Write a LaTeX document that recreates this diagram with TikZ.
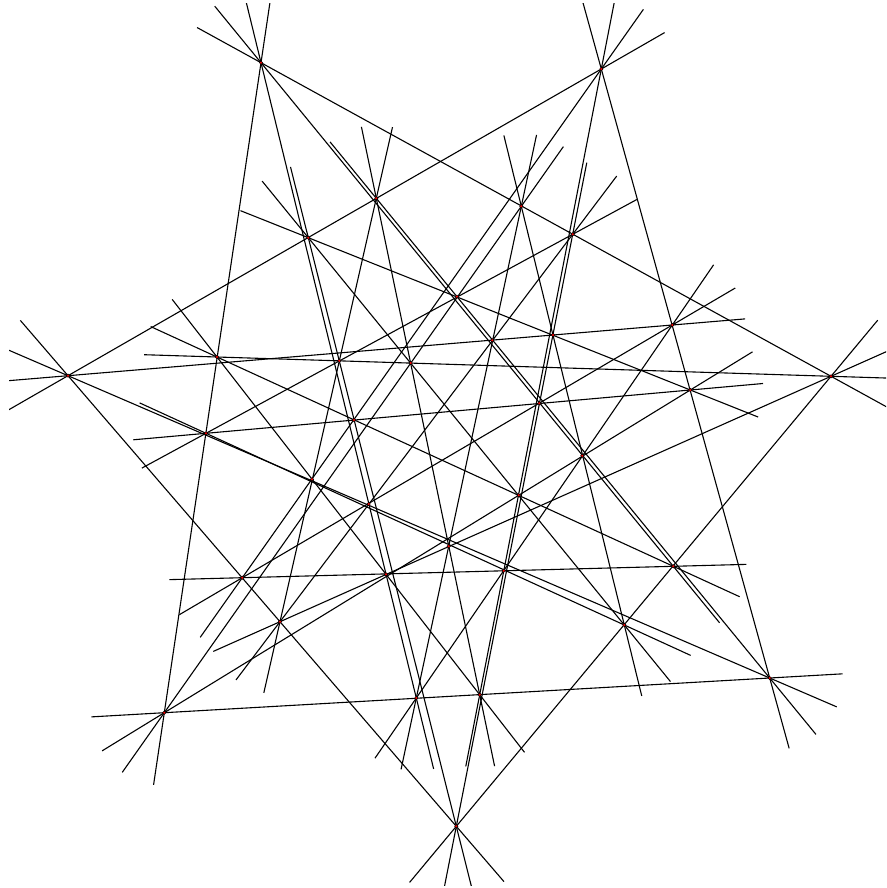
\documentclass[tikz,border=0pt]{standalone}
\usepackage{tikz}
\usetikzlibrary{calc}

\begin{document}
\begin{tikzpicture}[
    x=1pt, y=-1pt,
    cfgline/.style = {draw=black, line width=1.1pt},
    cfgpoint/.style = {fill=red, draw=black, line width=0.45pt}
]
\useasboundingbox (0,0) rectangle (886,888);

% points of the configuration
\foreach \n/\px/\py in {1/261/62.7, 2/601.3/69, 3/376.3/198.3, 4/521.3/206.3, 5/308.3/237.7,
    6/572.7/234.3, 7/456.9/296.7, 8/672.3/325, 9/492.3/340.3, 10/553/335,
    11/217/357, 12/339.3/360.7, 13/410.7/363, 14/68/375.7, 15/831/376.3,
    16/690.3/390, 17/539.3/403.3, 18/354/420, 19/206/433.3, 20/582.3/455.7,
    21/312/479.3, 22/518.7/495.3, 23/368.7/504, 24/448.7/546.3, 25/503.7/570.7,
    26/242.3/577.7, 27/386/574.3, 28/673.3/566.3, 29/280/621.7, 30/624.3/625,
    31/769.7/678, 32/164.3/712.7, 33/416.3/698, 34/479.7/694.7, 35/456.3/826.3}
    \coordinate (p\n) at (\px,\py);

% lines, from first to last point, extended past both ends
\begin{scope}
\clip (9,4) rectangle (886,885);
\foreach \a/\b in {p1/p15, p1/p28, p3/p31, p1/p33, p1/p32, p5/p30, p5/p35,
    p3/p34, p3/p29, p5/p16, p11/p34, p2/p31, p2/p34, p6/p35, p2/p14,
    p2/p26, p6/p29, p6/p19, p8/p33, p8/p26, p14/p31, p19/p30, p14/p35,
    p14/p8, p11/p28, p11/p15, p19/p16, p26/p28, p15/p35, p15/p29,
    p16/p32, p32/p31, p32/p4, p4/p33, p4/p30}
    \draw[cfgline] ($(\a)!-73pt!(\b)$) -- ($(\b)!-73pt!(\a)$);
\end{scope}

\foreach \n in {1,...,35}
    \filldraw[cfgpoint] (p\n) circle (1.7pt);

\end{tikzpicture}
\end{document}
